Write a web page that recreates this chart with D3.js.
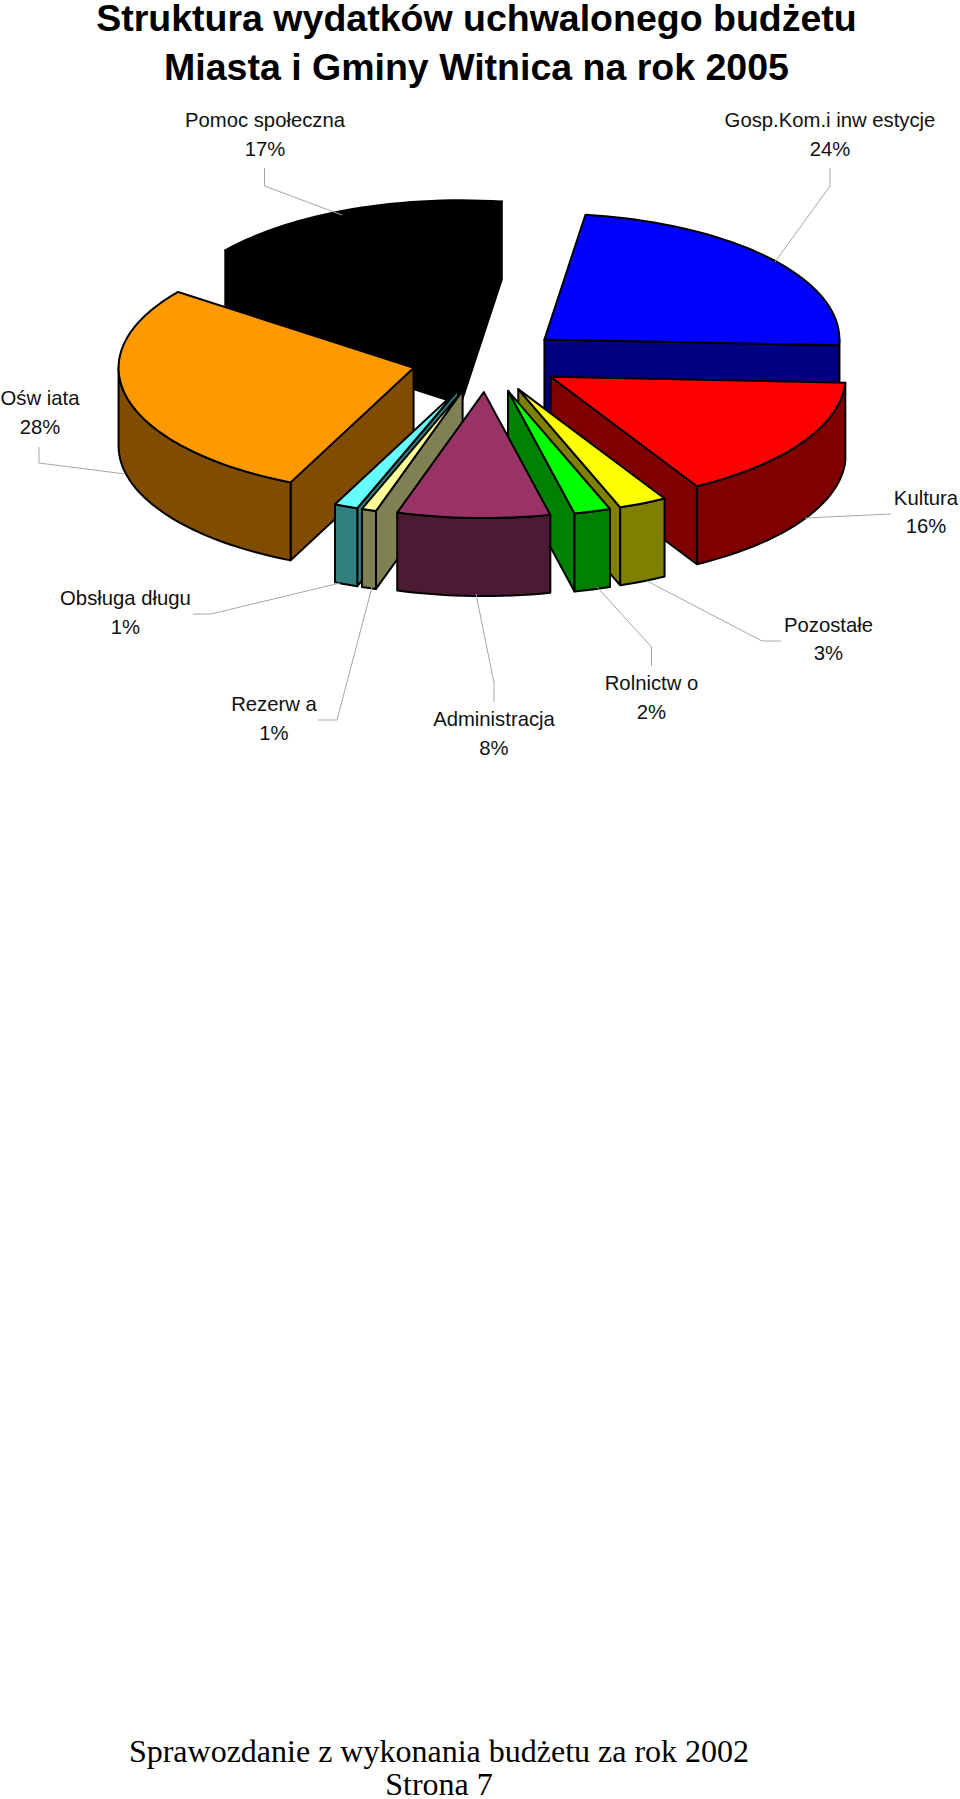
<!DOCTYPE html>
<html><head><meta charset="utf-8">
<script src="https://cdn.jsdelivr.net/npm/d3@7/dist/d3.min.js"></script>
<style>html,body{margin:0;padding:0;background:#fff}svg{display:block}</style>
</head><body><div id="c"></div>
<script>
const titleLines = ["Struktura wydatków uchwalonego budżetu","Miasta i Gminy Witnica na rok 2005"];
const footerLines = ["Sprawozdanie z wykonania budżetu za rok 2002","Strona 7"];
const categories = ["Gosp.Kom.i inw estycje","Kultura","Pozostałe","Rolnictw o","Administracja","Rezerw a","Obsługa długu","Ośw iata","Pomoc społeczna"];
// shares; labels show them rounded to whole percent
const values = [23.52,16,2.64,2,8.36,0.8,1.3,28.45,16.93];
const topColors = ["#0000ff","#ff0000","#ffff00","#00ff00","#993366","#ffff99","#66ffff","#ff9900","#000000"];
const sideColors = ["#000080","#800000","#808000","#008000","#4d1a33","#808055","#338080","#804d00","#000000"];
const paintOrder = ["Pomoc społeczna","Gosp.Kom.i inw estycje","Kultura","Ośw iata","Pozostałe","Rolnictw o","Obsługa długu","Rezerw a","Administracja"];

const W=960,H=1799;
const svg=d3.select("#c").append("svg").attr("width",W).attr("height",H).attr("viewBox",`0 0 ${W} ${H}`);
const sans="'Liberation Sans',Arial,sans-serif", serif="'Liberation Serif',serif";

// ground-plane projection: unit disc -> screen
const RX=295,RY=126,DEPTH=78,EXPLODE=0.255;
const sx=d3.scaleLinear().domain([-1,1]).range([486.5-RX,486.5+RX]);
const sy=d3.scaleLinear().domain([-1,1]).range([360-RY,360+RY]);
const pie=d3.pie().value((d,i)=>values[i]).sort(null).startAngle(8*Math.PI/180).endAngle(368*Math.PI/180);
const arcs=pie(categories).map((a,i)=>({...a,i}));
const line=d3.line();

function slicePts(a){
  const mid=(a.startAngle+a.endAngle)/2;
  const ox=EXPLODE*Math.sin(mid), oy=-EXPLODE*Math.cos(mid);
  const nudge=a.data==="Pomoc społeczna"?[3,-4]:[0,0];
  const P=(r,t,dz=0)=>[sx(ox+r*Math.sin(t))+nudge[0], sy(oy-r*Math.cos(t))+nudge[1]+dz];
  return P;
}
function rim(P,t0,t1,dz){
  const n=Math.max(2,Math.ceil((t1-t0)/(Math.PI/90)));
  return d3.range(n+1).map(k=>P(1,t0+(t1-t0)*k/n,dz));
}
const pieG=svg.append("g").attr("stroke","#000").attr("stroke-width",2).attr("stroke-linejoin","round");
paintOrder.forEach(name=>{
  const a=arcs.find(d=>d.data===name), P=slicePts(a), g=pieG.append("g");
  const t0=a.startAngle,t1=a.endAngle,side=sideColors[a.i];
  const wall=t=>[P(0,t),P(1,t),P(1,t,DEPTH),P(0,t,DEPTH)];
  if(Math.sin(t0)<0) g.append("path").attr("d",line(wall(t0))+"Z").attr("fill",side);
  if(Math.sin(t1)>0) g.append("path").attr("d",line(wall(t1))+"Z").attr("fill",side);
  const lo=Math.max(t0,Math.PI/2),hi=Math.min(t1,3*Math.PI/2);
  if(hi>lo){
    const pts=rim(P,lo,hi,0).concat(rim(P,lo,hi,DEPTH).reverse());
    g.append("path").attr("d",line(pts)+"Z").attr("fill",side);
  }
  g.append("path").attr("d",line([P(0,t0)].concat(rim(P,t0,t1,0)))+"Z").attr("fill",topColors[a.i]);
});

// data labels and leader lines
const labelLayout={
 "Pomoc społeczna":{x:265,y:[127,156],lead:[[264.5,168],[264.5,186],[342,215]]},
 "Gosp.Kom.i inw estycje":{x:830,y:[127,156],lead:[[830,168],[830,186],[775,262]]},
 "Ośw iata":{x:40,y:[405,434],lead:[[39,447],[39,463],[125.5,474]]},
 "Kultura":{x:926,y:[505,533],lead:[[891,514],[805,518]]},
 "Obsługa długu":{x:125.5,y:[605,634],lead:[[193,614],[211,614],[340,583]]},
 "Rezerw a":{x:274,y:[711,740],lead:[[318,720],[337,720],[372,587]]},
 "Administracja":{x:494,y:[726,755],lead:[[494,702],[494,683],[476,594]]},
 "Rolnictw o":{x:651.5,y:[690,719],lead:[[651.5,666],[651.5,647],[597,587]]},
 "Pozostałe":{x:828.5,y:[632,660],lead:[[781,641],[762,641],[647,581]]}
};
const fmt=d3.format(".0f");
categories.forEach((c,i)=>{
  const L=labelLayout[c];
  svg.append("path").attr("d",line(L.lead)).attr("fill","none").attr("stroke","#a6a6a6").attr("stroke-width",1);
  [c,fmt(values[i])+"%"].forEach((t,k)=>svg.append("text").attr("x",L.x).attr("y",L.y[k]).attr("text-anchor","middle")
    .attr("font-family",sans).attr("font-size",20.3).attr("fill","#111").text(t));
});
titleLines.forEach((t,k)=>svg.append("text").attr("x",476.5).attr("y",[31,80][k]).attr("text-anchor","middle")
  .attr("font-family",sans).attr("font-weight","bold").attr("font-size",37.5).attr("fill","#000").text(t));
footerLines.forEach((t,k)=>svg.append("text").attr("x",439).attr("y",[1762,1795][k]).attr("text-anchor","middle")
  .attr("font-family",serif).attr("font-size",32).attr("fill","#000").text(t));
</script></body></html>
